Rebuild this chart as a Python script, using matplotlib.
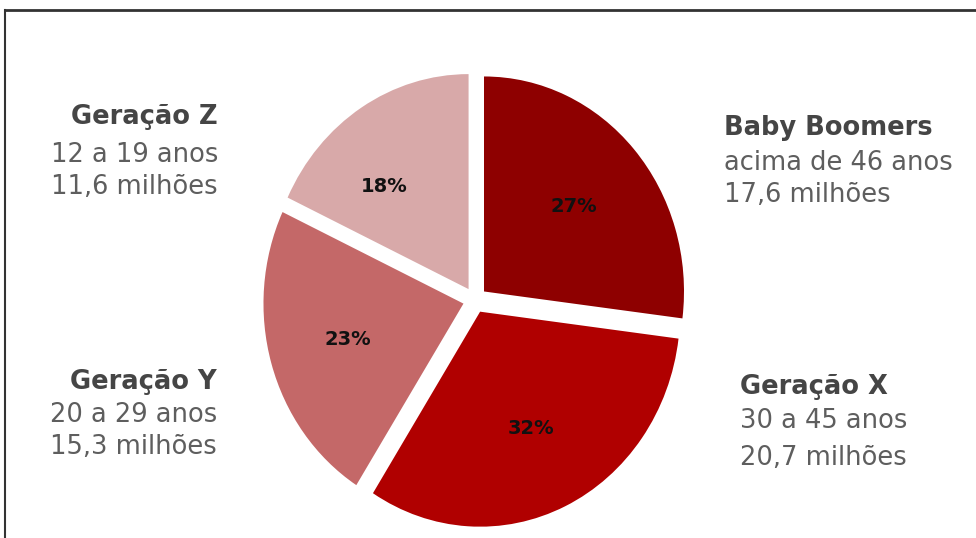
import matplotlib.pyplot as plt
import matplotlib.patheffects as pe

plt.rcParams['font.family'] = ['DejaVu Sans']

# data
groups = ['Baby Boomers', 'Geração X', 'Geração Y', 'Geração Z']
shares = [27, 32, 23, 18]
ages = ['acima de 46 anos', '30 a 45 anos', '20 a 29 anos', '12 a 19 anos']
people = ['17,6 milhões', '20,7 milhões', '15,3 milhões', '11,6 milhões']
colors = ['#8e0000', '#b00000', '#c46868', '#d8a9a9']

W, H = 976, 538
fig = plt.figure(figsize=(W / 100, H / 100), dpi=100)

# pie axes: slightly taller than wide, like the source image
cx, cy = 475, 300       # pie centre in pixels (from top)
rx, ry = 200, 215
ax = fig.add_axes([0, 0, 1, 1])
wedges, texts, autotexts = ax.pie(
    shares, colors=colors, startangle=90, counterclock=False,
    explode=[0.06] * 4, autopct='%d%%', pctdistance=0.6,
    textprops=dict(fontsize=14, fontweight='bold', color='#111111'))
ax.set_aspect('auto')
ax.set_xlim(-cx / rx, (W - cx) / rx)
ax.set_ylim(-(H - cy) / ry, cy / ry)
ax.axis('off')
for w in wedges:
    w.set_path_effects([pe.withStroke(linewidth=2, foreground='white')])
# nudge the 18% label a bit left, as in the reference
x, y = autotexts[3].get_position()
autotexts[3].set_position((x - 0.1, y - 0.03))

# overlay in pixel coordinates for labels and frame
ov = fig.add_axes([0, 0, 1, 1])
ov.set_xlim(0, W)
ov.set_ylim(H, 0)
ov.axis('off')
ov.patch.set_alpha(0)

ov.plot([5, W], [10, 10], color='#333333', lw=2)
ov.plot([5, 5], [10, H], color='#333333', lw=1.5)

label_pos = {
    'Baby Boomers': (724, [128, 163, 195], 'left'),
    'Geração X': (740, [387, 421, 458], 'left'),
    'Geração Y': (217, [382, 415, 447], 'right'),
    'Geração Z': (218, [117, 155, 187], 'right'),
}
for g, a, p in zip(groups, ages, people):
    x, ys, ha = label_pos[g]
    ov.text(x, ys[0], g, ha=ha, va='center', fontsize=18.5, fontweight='bold', color='#454545')
    ov.text(x, ys[1], a, ha=ha, va='center', fontsize=18.5, color='#5e5e5e')
    ov.text(x, ys[2], p, ha=ha, va='center', fontsize=18.5, color='#5e5e5e')

fig.savefig('out.png', dpi=100)
